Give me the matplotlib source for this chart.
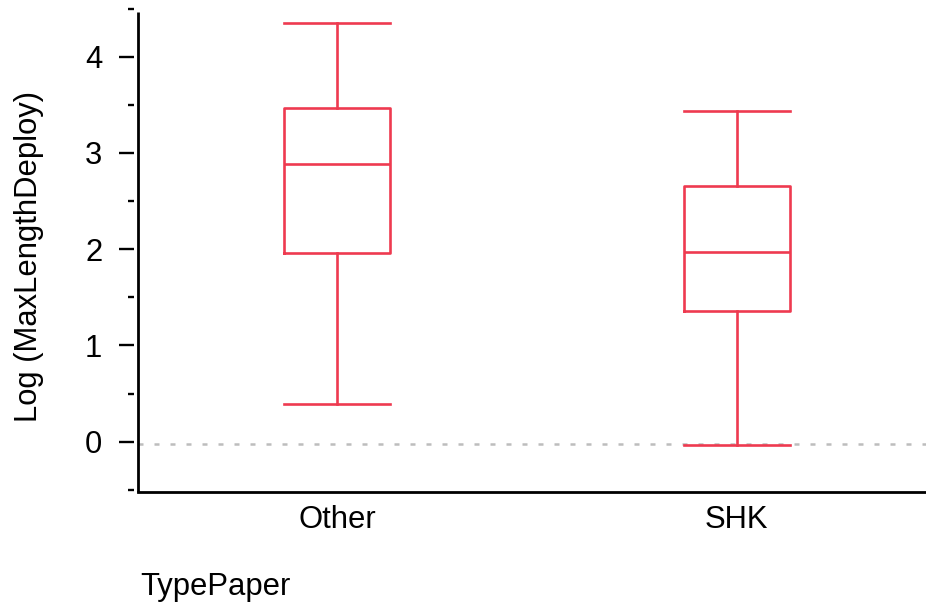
import matplotlib.pyplot as plt
from matplotlib.transforms import blended_transform_factory

plt.rcParams['font.family'] = ['Liberation Sans', 'DejaVu Sans']

# summary stats of log(MaxLengthDeploy) per paper type
groups = ["Other", "SHK"]
whisker_low = [0.39, -0.035]
q1 = [1.964, 1.361]
median = [2.885, 1.968]
q3 = [3.464, 2.66]
whisker_high = [4.354, 3.434]
ref_level = -0.027

red = '#EE3A50'
fs = 22.3

stats = []
for i, g in enumerate(groups):
    stats.append({'label': g, 'whislo': whisker_low[i], 'q1': q1[i], 'med': median[i],
                  'q3': q3[i], 'whishi': whisker_high[i], 'fliers': []})

fig = plt.figure(figsize=(9.26, 6.10), dpi=100)
ax = fig.add_axes([0.1487, 0.193, 0.8513, 0.793])

ax.axhline(ref_level, color='#BDBDBD', lw=1.8, ls=(0, (2.0, 4.4)), zorder=1)

line = dict(color=red, linewidth=1.9)
ax.bxp(stats, positions=[0, 1], widths=0.265, capwidths=0.265, showfliers=False,
       boxprops=line, whiskerprops=line, capprops=line, medianprops=line)

ax.set_xlim(-0.4986, 1.4736)
ax.set_ylim(-0.526, 4.5)
ax.set_yticks([0, 1, 2, 3, 4])
ax.set_yticks([-0.5, 0.5, 1.5, 2.5, 3.5, 4.5], minor=True)

for s in ['top', 'right']:
    ax.spines[s].set_visible(False)
ax.spines['bottom'].set_linewidth(2.0)
ax.spines['left'].set_position(('outward', 2.8))
ax.spines['left'].set_visible(False)

# axis line drawn separately so the ticks float just off it
trans = blended_transform_factory(ax.transAxes, ax.transData)
ax.plot([0, 0], [-0.526, 4.464], transform=trans, color='black', lw=2.0,
        clip_on=False, solid_capstyle='butt')

ax.tick_params(axis='y', which='major', length=10.8, width=1.7, pad=12, labelsize=fs)
ax.tick_params(axis='y', which='minor', length=4.3, width=1.7)
ax.tick_params(axis='x', length=0, pad=9, labelsize=fs)

fig.text(29 / 926, 1 - 257 / 610, 'Log (MaxLengthDeploy)', rotation=90,
         ha='center', va='center', fontsize=fs)
fig.text(140 / 926, 1 - 595 / 610, 'TypePaper', ha='left', va='baseline', fontsize=fs)

fig.savefig('out.png', dpi=100)
